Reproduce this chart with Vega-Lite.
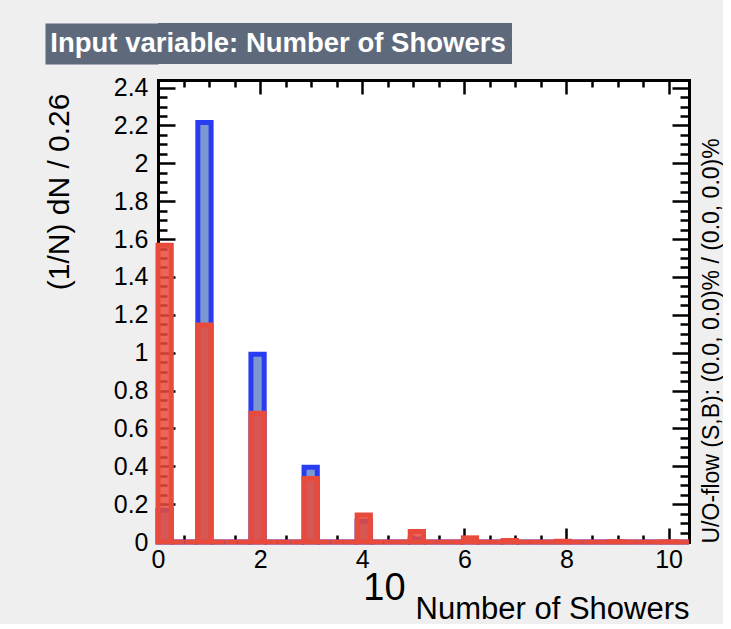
{
  "$schema": "https://vega.github.io/schema/vega-lite/v6.json",
  "background": "#efefef",
  "padding": {"left": 44, "top": 23, "right": 0, "bottom": 0},
  "spacing": 11,
  "config": {
    "view": {"stroke": null},
    "font": "Liberation Sans",
    "axis": {"grid": false, "domain": false, "labelFont": "Liberation Sans", "titleFont": "Liberation Sans", "labelColor": "black", "titleColor": "black", "tickColor": "black", "tickWidth": 2.5, "domainColor": "black", "domainWidth": 3, "domainCap": "square", "zindex": 1}
  },
  "datasets": {
    "hist": [
      {"lo": 0, "hi": 0.26, "sig": 0.168, "bkg": 1.567},
      {"lo": 0.26, "hi": 0.52, "sig": 0, "bkg": 0},
      {"lo": 0.52, "hi": 0.78, "sig": 0, "bkg": 0},
      {"lo": 0.78, "hi": 1.04, "sig": 2.216, "bkg": 1.146},
      {"lo": 1.04, "hi": 1.3, "sig": 0, "bkg": 0},
      {"lo": 1.3, "hi": 1.56, "sig": 0, "bkg": 0},
      {"lo": 1.56, "hi": 1.82, "sig": 0, "bkg": 0},
      {"lo": 1.82, "hi": 2.08, "sig": 0.991, "bkg": 0.68},
      {"lo": 2.08, "hi": 2.34, "sig": 0, "bkg": 0},
      {"lo": 2.34, "hi": 2.6, "sig": 0, "bkg": 0},
      {"lo": 2.6, "hi": 2.86, "sig": 0, "bkg": 0},
      {"lo": 2.86, "hi": 3.12, "sig": 0.395, "bkg": 0.335},
      {"lo": 3.12, "hi": 3.38, "sig": 0, "bkg": 0},
      {"lo": 3.38, "hi": 3.64, "sig": 0, "bkg": 0},
      {"lo": 3.64, "hi": 3.9, "sig": 0, "bkg": 0},
      {"lo": 3.9, "hi": 4.16, "sig": 0.11, "bkg": 0.142},
      {"lo": 4.16, "hi": 4.42, "sig": 0, "bkg": 0},
      {"lo": 4.42, "hi": 4.68, "sig": 0, "bkg": 0},
      {"lo": 4.68, "hi": 4.94, "sig": 0, "bkg": 0},
      {"lo": 4.94, "hi": 5.2, "sig": 0.015, "bkg": 0.055},
      {"lo": 5.2, "hi": 5.46, "sig": 0, "bkg": 0},
      {"lo": 5.46, "hi": 5.72, "sig": 0, "bkg": 0},
      {"lo": 5.72, "hi": 5.98, "sig": 0, "bkg": 0},
      {"lo": 5.98, "hi": 6.24, "sig": 0.004, "bkg": 0.022},
      {"lo": 6.24, "hi": 6.5, "sig": 0, "bkg": 0},
      {"lo": 6.5, "hi": 6.76, "sig": 0, "bkg": 0},
      {"lo": 6.76, "hi": 7.02, "sig": 0.001, "bkg": 0.008},
      {"lo": 7.02, "hi": 7.28, "sig": 0, "bkg": 0},
      {"lo": 7.28, "hi": 7.54, "sig": 0, "bkg": 0},
      {"lo": 7.54, "hi": 7.8, "sig": 0, "bkg": 0},
      {"lo": 7.8, "hi": 8.06, "sig": 0, "bkg": 0.004},
      {"lo": 8.06, "hi": 8.32, "sig": 0, "bkg": 0},
      {"lo": 8.32, "hi": 8.58, "sig": 0, "bkg": 0},
      {"lo": 8.58, "hi": 8.84, "sig": 0, "bkg": 0},
      {"lo": 8.84, "hi": 9.1, "sig": 0, "bkg": 0.002},
      {"lo": 9.1, "hi": 9.36, "sig": 0, "bkg": 0},
      {"lo": 9.36, "hi": 9.62, "sig": 0, "bkg": 0},
      {"lo": 9.62, "hi": 9.88, "sig": 0, "bkg": 0},
      {"lo": 9.88, "hi": 10.14, "sig": 0, "bkg": 0.001},
      {"lo": 10.14, "hi": 10.4, "sig": 0, "bkg": 0}
    ]
  },
  "vconcat": [
    {
      "width": 354,
      "height": 41,
      "view": {"fill": "#5e6a7c", "stroke": null},
      "data": {"values": [{"t": "Input variable: Number of Showers"}]},
      "mark": {"type": "text", "color": "white", "font": "Liberation Sans", "fontWeight": "bold", "fontSize": 27.5, "align": "center", "baseline": "middle", "dx": -57},
      "encoding": {
        "text": {"field": "t"},
        "y": {"datum": 0, "type": "quantitative", "scale": {"domain": [-1, 1]},
          "axis": {"orient": "left", "labels": false, "ticks": false, "title": null, "domain": true, "domainColor": "#5e6a7c", "domainWidth": 113, "domainCap": "butt", "offset": 56.5, "zindex": 0}}
      }
    },
    {
      "width": 531,
      "height": 462,
      "view": {"stroke": null, "fill": "white"},
      "data": {"name": "hist"},
      "resolve": {"scale": {"x": "shared", "y": "shared"}, "axis": {"x": "independent", "y": "independent"}},
      "layer": [
        {
          "mark": {"type": "rect", "fill": "#7b98d0", "stroke": "#2a3cf2", "strokeWidth": 5},
          "encoding": {
            "x": {"field": "lo", "type": "quantitative", "scale": {"domain": [0, 10.4], "nice": false, "zero": false},
              "axis": {"orient": "bottom", "values": [0, 2, 4, 6, 8, 10], "ticks": false, "format": "d", "labelFontSize": 25, "labelPadding": 5, "labelFlush": false,
                "title": "Number of Showers", "titleFontSize": 31, "titleFontWeight": "normal", "titleX": 531, "titleY": 76, "titleAlign": "right", "titleBaseline": "alphabetic", "titleAngle": 0}},
            "x2": {"field": "hi"},
            "y": {"field": "sig", "type": "quantitative", "scale": {"domain": [0, 2.44], "nice": false},
              "axis": {"orient": "left", "values": [0, 0.2, 0.4, 0.6, 0.8, 1, 1.2, 1.4, 1.6, 1.8, 2, 2.2, 2.4], "ticks": false, "format": "~g", "labelFontSize": 25, "labelPadding": 10,
                "title": "(1/N) dN / 0.26", "titleFontSize": 30, "titleFontWeight": "normal", "titleAngle": 270, "titleX": -99, "titleY": 13, "titleAlign": "right", "titleBaseline": "middle"}},
            "y2": {"datum": 0}
          }
        },
        {
          "mark": {"type": "rect", "fill": "#e84b3c", "fillOpacity": 0.85, "stroke": "#e84b3c", "strokeWidth": 5},
          "encoding": {
            "x": {"field": "lo", "type": "quantitative",
              "axis": {"orient": "bottom", "values": [0, 2, 4, 6, 8, 10], "labels": false, "tickSize": -14, "domain": true,
                "title": "10", "titleFontSize": 38, "titleFontWeight": "normal", "titleX": 226, "titleY": 46, "titleAlign": "center", "titleBaseline": "middle", "titleAngle": 0}},
            "x2": {"field": "hi"},
            "y": {"field": "bkg", "type": "quantitative",
              "axis": {"orient": "left", "values": [0, 0.2, 0.4, 0.6, 0.8, 1, 1.2, 1.4, 1.6, 1.8, 2, 2.2, 2.4], "labels": false, "tickSize": -17, "domain": true, "title": null}},
            "y2": {"datum": 0}
          }
        },
        {
          "mark": {"type": "rect", "opacity": 0},
          "encoding": {
            "x": {"field": "lo", "type": "quantitative",
              "axis": {"orient": "bottom", "values": [0.5, 1, 1.5, 2.5, 3, 3.5, 4.5, 5, 5.5, 6.5, 7, 7.5, 8.5, 9, 9.5], "labels": false, "tickSize": -7, "title": null}},
            "x2": {"field": "hi"},
            "y": {"field": "sig", "type": "quantitative",
              "axis": {"orient": "left", "values": [0.05, 0.1, 0.15, 0.25, 0.3, 0.35, 0.45, 0.5, 0.55, 0.65, 0.7, 0.75, 0.85, 0.9, 0.95, 1.05, 1.1, 1.15, 1.25, 1.3, 1.35, 1.45, 1.5, 1.55, 1.65, 1.7, 1.75, 1.85, 1.9, 1.95, 2.05, 2.1, 2.15, 2.25, 2.3, 2.35], "labels": false, "tickSize": -9, "title": null}},
            "y2": {"datum": 0}
          }
        },
        {
          "mark": {"type": "rect", "opacity": 0},
          "encoding": {
            "x": {"field": "lo", "type": "quantitative",
              "axis": {"orient": "top", "values": [0, 2, 4, 6, 8, 10], "labels": false, "tickSize": -14, "domain": true, "title": null}},
            "x2": {"field": "hi"},
            "y": {"field": "sig", "type": "quantitative",
              "axis": {"orient": "right", "values": [0, 0.2, 0.4, 0.6, 0.8, 1, 1.2, 1.4, 1.6, 1.8, 2, 2.2, 2.4], "labels": false, "tickSize": -17, "domain": true,
                "title": "U/O-flow (S,B): (0.0, 0.0)% / (0.0, 0.0)%", "titleFontSize": 23, "titleFontWeight": "normal", "titleAngle": 270, "titleX": 22, "titleY": 463, "titleAlign": "left", "titleBaseline": "middle"}},
            "y2": {"datum": 0}
          }
        },
        {
          "mark": {"type": "rect", "opacity": 0},
          "encoding": {
            "x": {"field": "lo", "type": "quantitative",
              "axis": {"orient": "top", "values": [0.5, 1, 1.5, 2.5, 3, 3.5, 4.5, 5, 5.5, 6.5, 7, 7.5, 8.5, 9, 9.5], "labels": false, "tickSize": -7, "title": null}},
            "x2": {"field": "hi"},
            "y": {"field": "sig", "type": "quantitative",
              "axis": {"orient": "right", "values": [0.05, 0.1, 0.15, 0.25, 0.3, 0.35, 0.45, 0.5, 0.55, 0.65, 0.7, 0.75, 0.85, 0.9, 0.95, 1.05, 1.1, 1.15, 1.25, 1.3, 1.35, 1.45, 1.5, 1.55, 1.65, 1.7, 1.75, 1.85, 1.9, 1.95, 2.05, 2.1, 2.15, 2.25, 2.3, 2.35], "labels": false, "tickSize": -9, "title": null}},
            "y2": {"datum": 0}
          }
        }
      ]
    }
  ]
}
